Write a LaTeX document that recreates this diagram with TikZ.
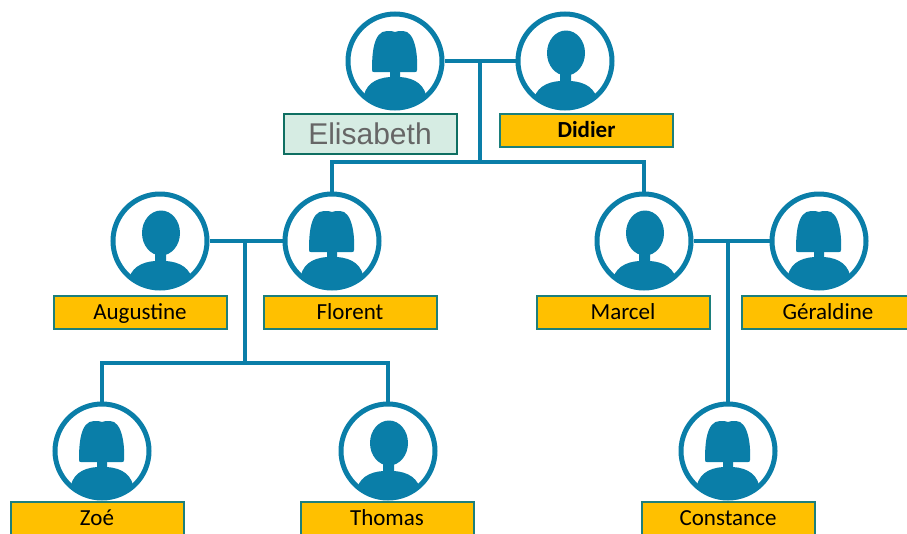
\documentclass[tikz,border=0pt]{standalone}
\usepackage{fontspec}
\setmainfont{Carlito}
\newfontfamily\elifont{Liberation Sans}
\usepackage{tikz}
\definecolor{treeblue}{HTML}{0A7EA8}
\definecolor{boxgold}{HTML}{FFC000}
\definecolor{boxedge}{HTML}{1C7F7C}
\definecolor{elifill}{HTML}{D6ECE3}
\definecolor{eliedge}{HTML}{0F6F62}
\tikzset{
  x=1pt,y=-1pt,
  person/.style={draw=treeblue,fill=white,circle,line width=5pt,minimum size=94pt,inner sep=0pt},
  link/.style={draw=treeblue,line width=4pt},
  namebox/.style={draw=boxedge,fill=boxgold,line width=2pt,minimum width=173pt,minimum height=33pt,
    inner sep=0pt,text height=18pt,text depth=4pt,font=\fontsize{23}{26}\selectfont,text=black},
  womanshape/.pic={
    \clip (0,0) circle (46);
    \fill[treeblue] (-23,9) .. controls (-23,-6) and (-22,-30) .. (-8,-30)
      .. controls (-4,-30) and (-2,-30) .. (0,-29) .. controls (2,-30) and (4,-30) .. (8,-30)
      .. controls (20,-30) and (23,-6) .. (22,9) .. controls (22,11) and (21,11) .. (20,11)
      -- (-21,11) .. controls (-22,11) and (-23,11) .. (-23,9) -- cycle;
    \fill[treeblue] (-32,40) .. controls (-31,24) and (-20,17) .. (-5,16) -- (-5,10) -- (5,10) -- (5,16)
      .. controls (20,17) and (31,24) .. (32,40) -- (32,50) -- (-32,50) -- cycle;
  },
  manshape/.pic={
    \clip (0,0) circle (46);
    \fill[treeblue] (1,-8) ellipse (19 and 22.5);
    \fill[treeblue] (-32,42) .. controls (-30,27) and (-19,21) .. (-5,20) -- (-5,10) -- (6,10) -- (6,20)
      .. controls (20,21) and (31,27) .. (33,42) -- (33,50) -- (-32,50) -- cycle;
  }
}
\begin{document}
\begin{tikzpicture}
\useasboundingbox (0,0) rectangle (907,533);

\node (eli) [person] at (395,61) {};
\node (did) [person] at (565,61) {};
\node (aug) [person] at (160,241) {};
\node (flo) [person] at (332,241) {};
\node (mar) [person] at (644,241) {};
\node (ger) [person] at (819,241) {};
\node (zoe) [person] at (102,451) {};
\node (tho) [person] at (388,451) {};
\node (con) [person] at (728,451) {};

\foreach \who in {eli,flo,ger,zoe,con} \pic at (\who) {womanshape};
\foreach \who in {did,aug,mar,tho} \pic at (\who) {manshape};

\node (elilab) [namebox,draw=eliedge,fill=elifill,minimum height=40pt,text=black!60,text height=22pt,text depth=1pt,font=\elifont\fontsize{30}{32}\selectfont] at (370,133.5) {Elisabeth};
\node (didlab) [namebox,font=\fontsize{23}{26}\selectfont\bfseries] at (586.5,130.5) {Didier};
\node (auglab) [namebox] at (140,312) {Augustine};
\node (flolab) [namebox] at (350,312) {Florent};
\node (marlab) [namebox] at (623,312) {Marcel};
\node (gerlab) [namebox] at (828,312) {Géraldine};
\node (zoelab) [namebox] at (97,518) {Zoé};
\node (tholab) [namebox] at (387,518) {Thomas};
\node (conlab) [namebox] at (728,518) {Constance};

\coordinate (topmid) at (480,61);
\coordinate (topbar) at (480,162);
\coordinate (leftmid) at (245,241);
\coordinate (leftbar) at (245,363);
\coordinate (rightmid) at (728,241);

\draw[link] (eli) -- (did);
\draw[link] (topmid) -- (topbar);
\draw[link] (flo.north) |- (topbar) -| (mar.north);
\draw[link] (aug) -- (flo);
\draw[link] (leftmid) -- (leftbar);
\draw[link] (zoe.north) |- (leftbar) -| (tho.north);
\draw[link] (mar) -- (ger);
\draw[link] (rightmid) -- (con.north);
\end{tikzpicture}
\end{document}
